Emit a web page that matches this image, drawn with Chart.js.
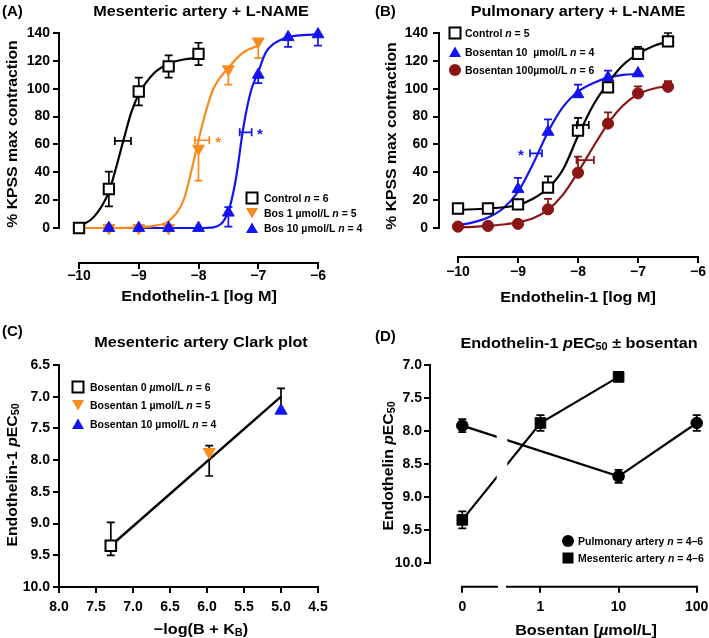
<!DOCTYPE html>
<html>
<head>
<meta charset="utf-8">
<title>Endothelin-1 and bosentan</title>
<script src="https://cdn.jsdelivr.net/npm/chart.js@4.4.1/dist/chart.umd.min.js"></script>
<style>
  body { margin: 0; background: #fff; overflow: hidden; }
  #fig { position: relative; width: 709px; height: 638px; overflow: hidden; }
  canvas { position: absolute; }
  .t { position: absolute; font-family: "Liberation Sans", Arial, sans-serif; font-weight: bold; white-space: nowrap; line-height: 1; color: #000; }
  .mid { transform: translate(-50%, -50%) scaleX(1.08); }
  .rot { transform: translate(-50%, -50%) rotate(-90deg) scaleX(1.05); }
  .big { font-size: 15px; }
  .lett { transform: translateY(-50%); }
  .leg { font-size: 10.5px; transform: translateY(-50%); }
  .mk { position: absolute; transform: translate(-50%, -50%); }
  sub { font-size: 0.68em; vertical-align: -0.25em; line-height: 0; }
</style>
</head>
<body>
<div id="fig">
  <canvas id="chartA" width="354" height="319" style="left:0;top:0"></canvas>
  <canvas id="chartB" width="380" height="319" style="left:354px;top:0"></canvas>
  <canvas id="chartC" width="354" height="319" style="left:0;top:319px"></canvas>
  <canvas id="chartD" width="380" height="319" style="left:354px;top:319px"></canvas>

  <!-- panel A -->
  <div class="t big lett" style="left:2px;top:10px">(A)</div>
  <div class="t big mid" style="left:201px;top:10px">Mesenteric artery + L-NAME</div>
  <div class="t big mid" style="left:199px;top:295px">Endothelin-1 [log M]</div>
  <div class="t big rot" style="left:11px;top:134px">% KPSS max contraction</div>
  <svg class="mk" style="left:252px;top:198px" width="14" height="14"><rect x="1.5" y="1.5" width="11" height="11" fill="#fff" stroke="#000" stroke-width="2"/></svg>
  <div class="t leg" style="left:264px;top:198px">Control <i>n</i> = 6</div>
  <svg class="mk" style="left:252px;top:213px" width="14" height="14"><polygon points="1,2 13,2 7,12.5" fill="#f68b1f"/></svg>
  <div class="t leg" style="left:264px;top:213px">Bos 1 µmol/L <i>n</i> = 5</div>
  <svg class="mk" style="left:252px;top:228px" width="14" height="14"><polygon points="7,1.5 13,12 1,12" fill="#1414f0"/></svg>
  <div class="t leg" style="left:264px;top:228px">Bos 10 µmol/L <i>n</i> = 4</div>

  <!-- panel B -->
  <div class="t big lett" style="left:375px;top:10px">(B)</div>
  <div class="t big mid" style="left:578px;top:10px">Pulmonary artery + L-NAME</div>
  <div class="t big mid" style="left:578px;top:296px">Endothelin-1 [log M]</div>
  <div class="t big rot" style="left:390px;top:136px">% KPSS max contraction</div>
  <svg class="mk" style="left:455px;top:33px" width="14" height="14"><rect x="1.5" y="1.5" width="11" height="11" fill="#fff" stroke="#000" stroke-width="2"/></svg>
  <div class="t leg" style="left:465px;top:33px">Control <i>n</i> = 5</div>
  <svg class="mk" style="left:455px;top:52px" width="14" height="14"><polygon points="7,1.5 13,12 1,12" fill="#1414f0"/></svg>
  <div class="t leg" style="left:465px;top:52px">Bosentan 10&nbsp; µmol/L <i>n</i> = 4</div>
  <svg class="mk" style="left:455px;top:70px" width="14" height="14"><circle cx="7" cy="7" r="6" fill="#8b1515"/></svg>
  <div class="t leg" style="left:465px;top:70px">Bosentan 100µmol/L <i>n</i> = 6</div>

  <!-- panel C -->
  <div class="t big lett" style="left:2px;top:330px">(C)</div>
  <div class="t big mid" style="left:201px;top:341px">Mesenteric artery Clark plot</div>
  <div class="t big mid" style="left:201px;top:628px">−log(B + K<sub>B</sub>)</div>
  <div class="t big rot" style="left:11px;top:475px">Endothelin-1 <i>p</i>EC<sub>50</sub></div>
  <svg class="mk" style="left:78px;top:387px" width="14" height="14"><rect x="1.5" y="1.5" width="11" height="11" fill="#fff" stroke="#000" stroke-width="2"/></svg>
  <div class="t leg" style="left:90px;top:387px">Bosentan 0 <i>µ</i>mol/L <i>n</i> = 6</div>
  <svg class="mk" style="left:78px;top:405px" width="14" height="14"><polygon points="1,2 13,2 7,12.5" fill="#f68b1f"/></svg>
  <div class="t leg" style="left:90px;top:405px">Bosentan 1 µmol/L <i>n</i> = 5</div>
  <svg class="mk" style="left:78px;top:424px" width="14" height="14"><polygon points="7,1.5 13,12 1,12" fill="#1414f0"/></svg>
  <div class="t leg" style="left:90px;top:424px">Bosentan 10 µmol/L <i>n</i> = 4</div>

  <!-- panel D -->
  <div class="t big lett" style="left:375px;top:335px">(D)</div>
  <div class="t big mid" style="left:579px;top:342px">Endothelin-1 <i>p</i>EC<sub>50</sub> ± bosentan</div>
  <div class="t big mid" style="left:586px;top:629px">Bosentan [<i>µ</i>mol/L]</div>
  <div class="t big rot" style="left:387px;top:466px">Endothelin <i>p</i>EC<sub>50</sub></div>
  <svg class="mk" style="left:568px;top:541px" width="14" height="14"><circle cx="7" cy="7" r="6" fill="#000"/></svg>
  <div class="t leg" style="left:578px;top:541px">Pulmonary artery <i>n</i> = 4–6</div>
  <svg class="mk" style="left:568px;top:558px" width="14" height="14"><rect x="1.5" y="1.5" width="11" height="11" fill="#000"/></svg>
  <div class="t leg" style="left:578px;top:558px">Mesenteric artery <i>n</i> = 4–6</div>
</div>

<script>
// ---- A: mesenteric artery + L-NAME (% KPSS vs log[ET-1]) ----
const aXTicks = [-10, -9, -8, -7, -6];
const aYTicks = [0, 20, 40, 60, 80, 100, 120, 140];
const aCtrlX = [-10, -9.5, -9, -8.5, -8];
const aCtrlY = [0, 28, 98, 116, 125];
const aCtrlErr = [0, 12.5, 10, 8, 8];
const aBos1X = [-9.5, -9, -8.5, -8, -7.5, -7];
const aBos1Y = [0, 0, 0, 57, 114, 134];
const aBos1ErrDown = [0, 0, 0, 23, 11, 12];
const aBos10X = [-9.5, -9, -8.5, -8, -7.5, -7, -6.5, -6];
const aBos10Y = [0, 0, 0, 0, 11, 110, 137, 139];
const aBos10ErrUp = [0, 0, 0, 0, 4, 0, 0, 0];
const aBos10ErrDown = [0, 0, 0, 0, 10, 6, 7, 8];
const aCtrlFitX = [-10, -9.75, -9.5, -9.375, -9.25, -9.125, -9, -8.75, -8.5, -8.25, -8];
const aCtrlFitY = [1, 8, 26, 44, 64, 83, 96, 111, 118, 121, 122];
const aBos1FitX = [-10, -9.5, -9, -8.75, -8.5, -8.25, -8.125, -8, -7.875, -7.75, -7.5, -7.25, -7];
const aBos1FitY = [0, 0, 0.5, 1.5, 5, 20, 40, 63, 84, 100, 115, 126, 131];
const aBos10FitX = [-10, -8, -7.75, -7.5, -7.375, -7.25, -7.125, -7, -6.875, -6.75, -6.5, -6.25, -6];
const aBos10FitY = [0, 0, 0.5, 12, 35, 72, 98, 112, 126, 132, 137, 138.5, 139];
const aEc50X = [-9.265, -7.94, -7.21];      // control, bos 1, bos 10
const aEc50Y = [62.5, 63, 68.7];
const aEc50Half = [0.135, 0.12, 0.1];
const aStarX = [-7.67, -6.97];
const aStarY = [63, 68.7];

// ---- B: pulmonary artery + L-NAME ----
const bXTicks = [-10, -9, -8, -7, -6];
const bYTicks = [0, 20, 40, 60, 80, 100, 120, 140];
const bCtrlX = [-10, -9.5, -9, -8.5, -8, -7.5, -7, -6.5];
const bCtrlY = [14, 14, 17, 29, 70, 101, 125, 134];
const bCtrlErrUp = [0, 0, 0, 8, 9, 6, 5, 6];
const bBos10X = [-9, -8.5, -8, -7.5, -7];
const bBos10Y = [28, 69, 96, 108, 111];
const bBos10ErrUp = [8, 9, 7, 5, 0];
const bBos100X = [-10, -9.5, -9, -8.5, -8, -7.5, -7, -6.5];
const bBos100Y = [1, 1.5, 3, 13.4, 39.7, 75, 96.7, 101.4];
const bBos100ErrUp = [0, 0, 0, 7.5, 11.5, 8, 5, 4];
const bCtrlFitX = [-10, -9.5, -9, -8.75, -8.5, -8.25, -8, -7.75, -7.5, -7.25, -7, -6.75, -6.5];
const bCtrlFitY = [13, 14, 16.5, 21, 28.5, 42, 66, 88, 104, 117, 125, 130.5, 134];
const bBos10FitX = [-10, -9.75, -9.5, -9.25, -9, -8.75, -8.5, -8.25, -8, -7.75, -7.5, -7.25, -7];
const bBos10FitY = [2, 4, 7.5, 14, 26, 46, 69, 87, 98, 104, 108, 110, 110.5];
const bBos100FitX = [-10, -9.75, -9.5, -9.25, -9, -8.75, -8.5, -8.25, -8, -7.75, -7.5, -7.25, -7, -6.75, -6.5];
const bBos100FitY = [0.5, 0.8, 1.5, 2.5, 4, 7, 13, 24, 40, 58, 75, 88, 96, 100, 102];
const bEc50X = [-7.92, -8.7, -7.88];        // control, bos 10, bos 100
const bEc50Y = [74, 53.6, 48.8];
const bEc50Half = [0.1, 0.1, 0.145];
const bStarX = [-8.95];
const bStarY = [53.6];

// ---- C: Clark plot ----
const cXTicks = [8, 7.5, 7, 6.5, 6, 5.5, 5, 4.5];
const cYTicks = [6.5, 7, 7.5, 8, 8.5, 9, 9.5, 10];
const cBos0X = [7.3], cBos0Y = [9.35], cBos0ErrUp = [0.37], cBos0ErrDown = [0.15];
const cBos1X = [5.97], cBos1Y = [7.87], cBos1ErrUp = [0.1], cBos1ErrDown = [0.38];
const cBos10X = [5.0], cBos10Y = [7.22], cBos10ErrUp = [0.35], cBos10ErrDown = [0];
const cFitX = [7.3, 5.0];
const cFitY = [9.35, 7.0];

// ---- D: pEC50 vs bosentan ----
const dXTicks = [0, 1, 2, 3];
const dXLabels = ['0', '1', '10', '100'];
const dYTicks = [7, 7.5, 8, 8.5, 9, 9.5, 10];
const dPulmX = [0, 2, 3];
const dPulmY = [7.92, 8.69, 7.88];
const dPulmErr = [0.1, 0.1, 0.12];
const dMesX = [0, 1, 2];
const dMesY = [9.35, 7.88, 7.18];
const dMesErr = [0.13, 0.12, 0.07];
const dBreak = [0.44, 0.576];

const FONT = "'Liberation Sans', Arial, sans-serif";
const ORANGE = '#f68b1f', BLUE = '#1414f0', DARKRED = '#8b1515';

function xy(xs, ys) { return xs.map((x, i) => ({x: x, y: ys[i]})); }

function fit(xs, ys, color) {
    return {data: xy(xs, ys), borderColor: color, borderWidth: 2.2, pointRadius: 0,
            cubicInterpolationMode: 'monotone', fill: false, order: 5, clip: false};
}

function marks(xs, ys, o) {
    return {data: xy(xs, ys), showLine: !!o.line, borderColor: o.color, borderWidth: 2.2, tension: 0,
            pointStyle: o.style, pointRadius: o.r, pointRotation: o.rot || 0,
            pointBackgroundColor: o.fill, pointBorderColor: o.color, pointBorderWidth: o.bw || 1,
            errUp: o.up, errDown: o.down, errColor: o.errColor || o.color,
            order: o.order || 0, clip: false};
}

// tick marks are drawn by the plugin; the grid keeps its tick length only for label spacing
function axis(min, max, ticks, fmt, size, pad, reverse, horiz) {
    return {
        type: 'linear', min: min, max: max, reverse: !!reverse,
        afterBuildTicks: s => { s.ticks = ticks.map(v => ({value: v})); },
        afterFit: s => { if (horiz) s.height = size; else s.width = size; },
        grid: {drawOnChartArea: false, drawTicks: true, tickLength: 5, lineWidth: 0, color: 'rgba(0,0,0,0)'},
        border: {display: false},
        ticks: {color: '#000', padding: pad, autoSkip: false, maxRotation: 0,
                font: {family: FONT, size: 14, weight: 'bold'}, callback: fmt}
    };
}

const minus = v => v < 0 ? '\u2212' + Math.abs(v) : String(v);
const plain = v => String(v);
const one = v => v.toFixed(1);

function figPlugin(fig) {
    return {
        id: 'fig',
        beforeDatasetsDraw(chart) {
            const ctx = chart.ctx, xs = chart.scales.x, ys = chart.scales.y;
            const dir = ys.options.reverse ? -1 : 1;
            chart.data.datasets.forEach(ds => {
                if (!ds.errUp && !ds.errDown) return;
                ctx.save();
                ctx.strokeStyle = ds.errColor;
                ctx.lineWidth = 1.7;
                ds.data.forEach((p, i) => {
                    const px = xs.getPixelForValue(p.x), py = ys.getPixelForValue(p.y);
                    [[ds.errUp, 1], [ds.errDown, -1]].forEach(([arr, s]) => {
                        if (!arr || !arr[i]) return;
                        const ey = ys.getPixelForValue(p.y + s * dir * arr[i]);
                        ctx.beginPath();
                        ctx.moveTo(px, py); ctx.lineTo(px, ey);
                        ctx.moveTo(px - 4, ey); ctx.lineTo(px + 4, ey);
                        ctx.stroke();
                    });
                });
                ctx.restore();
            });
        },
        afterDatasetsDraw(chart) {
            const ctx = chart.ctx, xs = chart.scales.x, ys = chart.scales.y, area = chart.chartArea;
            if (fig.mask) {
                const m0 = xs.getPixelForValue(fig.mask[0]), m1 = xs.getPixelForValue(fig.mask[1]);
                ctx.fillStyle = '#fff';
                ctx.fillRect(m0, area.top, m1 - m0, area.bottom - area.top - 2);
            }
            (fig.ec50 || []).forEach(e => {
                const y = ys.getPixelForValue(e.y);
                const x0 = xs.getPixelForValue(e.x - e.h), x1 = xs.getPixelForValue(e.x + e.h);
                ctx.save();
                ctx.strokeStyle = e.c; ctx.lineWidth = 1.7;
                ctx.beginPath();
                ctx.moveTo(x0, y); ctx.lineTo(x1, y);
                ctx.moveTo(x0, y - 4); ctx.lineTo(x0, y + 4);
                ctx.moveTo(x1, y - 4); ctx.lineTo(x1, y + 4);
                ctx.stroke();
                ctx.restore();
            });
            (fig.stars || []).forEach(s => {
                ctx.save();
                ctx.fillStyle = s.c;
                ctx.font = 'bold 15px ' + FONT;
                ctx.textAlign = 'center';
                ctx.textBaseline = 'middle';
                ctx.fillText('*', xs.getPixelForValue(s.x), ys.getPixelForValue(s.y) + 3);
                ctx.restore();
            });
        },
        afterDraw(chart) {
            const ctx = chart.ctx, xs = chart.scales.x, ys = chart.scales.y, area = chart.chartArea;
            ctx.save();
            ctx.strokeStyle = '#000'; ctx.lineWidth = 2;
            // tick marks, pointing outwards
            ctx.beginPath();
            xs.ticks.forEach(t => {
                const px = Math.round(xs.getPixelForValue(t.value));
                ctx.moveTo(px, area.bottom); ctx.lineTo(px, area.bottom + 6);
            });
            ys.ticks.forEach(t => {
                const py = Math.round(ys.getPixelForValue(t.value));
                ctx.moveTo(area.left, py); ctx.lineTo(area.left - 6, py);
            });
            ctx.stroke();
            // axis lines
            ctx.lineCap = 'square';
            ctx.beginPath();
            fig.xAxis.forEach(([a, b]) => {
                ctx.moveTo(Math.round(xs.getPixelForValue(a)), area.bottom);
                ctx.lineTo(Math.round(xs.getPixelForValue(b)), area.bottom);
            });
            ctx.moveTo(area.left, Math.round(ys.getPixelForValue(fig.yAxis[0])));
            ctx.lineTo(area.left, Math.round(ys.getPixelForValue(fig.yAxis[1])));
            ctx.stroke();
            ctx.restore();
        }
    };
}

function makeChart(id, datasets, xOpt, yOpt, padding, fig) {
    return new Chart(document.getElementById(id), {
        type: 'line',
        data: {datasets: datasets},
        options: {
            responsive: false, animation: false, events: [],
            layout: {padding: padding},
            scales: {x: xOpt, y: yOpt},
            plugins: {legend: {display: false}, tooltip: {enabled: false}}
        },
        plugins: [figPlugin(fig)]
    });
}

function ec50(xs, ys, hs, colors) { return xs.map((x, i) => ({x: x, y: ys[i], h: hs[i], c: colors[i]})); }
function stars(xs, ys, colors) { return xs.map((x, i) => ({x: x, y: ys[i], c: colors[i]})); }

// A
makeChart('chartA', [
    marks(aCtrlX, aCtrlY, {style: 'rect', r: 7.3, color: '#000', fill: '#fff', bw: 2, up: aCtrlErr, down: aCtrlErr, order: 0}),
    marks(aBos10X, aBos10Y, {style: 'triangle', r: 6.8, color: BLUE, fill: BLUE, up: aBos10ErrUp, down: aBos10ErrDown, order: 1}),
    marks(aBos1X, aBos1Y, {style: 'triangle', rot: 180, r: 6.8, color: ORANGE, fill: ORANGE, down: aBos1ErrDown, order: 2}),
    fit(aCtrlFitX, aCtrlFitY, '#000'),
    fit(aBos1FitX, aBos1FitY, ORANGE),
    fit(aBos10FitX, aBos10FitY, BLUE)
], axis(-10.335, -5.799, aXTicks, minus, 56, 0, false, true),
   axis(-25.13, 145.03, aYTicks, plain, 59, 4),
   {top: 26, right: 24, bottom: 0, left: 0},
   {xAxis: [[-10, -6]], yAxis: [0, 140],
    ec50: ec50(aEc50X, aEc50Y, aEc50Half, ['#000', ORANGE, BLUE]),
    stars: stars(aStarX, aStarY, [ORANGE, BLUE])});

// B
makeChart('chartB', [
    marks(bCtrlX, bCtrlY, {style: 'rect', r: 7.3, color: '#000', fill: '#fff', bw: 2, up: bCtrlErrUp, order: 0}),
    marks(bBos10X, bBos10Y, {style: 'triangle', r: 6.8, color: BLUE, fill: BLUE, up: bBos10ErrUp, order: 1}),
    marks(bBos100X, bBos100Y, {style: 'circle', r: 5.6, color: DARKRED, fill: DARKRED, up: bBos100ErrUp, order: 2}),
    fit(bCtrlFitX, bCtrlFitY, '#000'),
    fit(bBos10FitX, bBos10FitY, BLUE),
    fit(bBos100FitX, bBos100FitY, DARKRED)
], axis(-10.3167, -5.8667, bXTicks, minus, 62, 2, false, true),
   axis(-20.82, 145.03, bYTicks, plain, 85, 6),
   {top: 26, right: 28, bottom: 0, left: 0},
   {xAxis: [[-10, -6]], yAxis: [0, 140],
    ec50: ec50(bEc50X, bEc50Y, bEc50Half, ['#000', BLUE, DARKRED]),
    stars: stars(bStarX, bStarY, [BLUE])});

// C
makeChart('chartC', [
    marks(cBos0X, cBos0Y, {style: 'rect', r: 7.5, color: '#000', fill: '#fff', bw: 2, up: cBos0ErrUp, down: cBos0ErrDown, order: 0}),
    marks(cBos1X, cBos1Y, {style: 'triangle', rot: 180, r: 7, color: ORANGE, fill: ORANGE, up: cBos1ErrUp, down: cBos1ErrDown, errColor: '#000', order: 0}),
    marks(cBos10X, cBos10Y, {style: 'triangle', r: 7, color: BLUE, fill: BLUE, up: cBos10ErrUp, down: cBos10ErrDown, errColor: '#000', order: 0}),
    {data: xy(cFitX, cFitY), borderColor: '#000', borderWidth: 2.4, pointRadius: 0, tension: 0, order: 5, clip: false}
], axis(4.3378, 8.0, cXTicks, one, 51, 7, true, true),
   axis(6.4054, 10.0, cYTicks, one, 59, 4, true),
   {top: 40, right: 24, bottom: 0, left: 0},
   {xAxis: [[8, 4.5]], yAxis: [6.5, 10]});

// D
makeChart('chartD', [
    marks(dPulmX, dPulmY, {style: 'circle', r: 5.8, color: '#000', fill: '#000', up: dPulmErr, down: dPulmErr, line: true, order: 0}),
    marks(dMesX, dMesY, {style: 'rect', r: 7.5, color: '#000', fill: '#000', up: dMesErr, down: dMesErr, line: true, order: 1})
], axis(-0.4134, 3.157, dXTicks, (v, i) => dXLabels[i], 51.3, 7, false, true),
   axis(6.909, 10.364, dYTicks, one, 76, 3, true),
   {top: 40, right: 25, bottom: 0, left: 0},
   {xAxis: [[0, dBreak[0]], [dBreak[1], 3]], yAxis: [7, 10], mask: dBreak});
</script>
</body>
</html>
